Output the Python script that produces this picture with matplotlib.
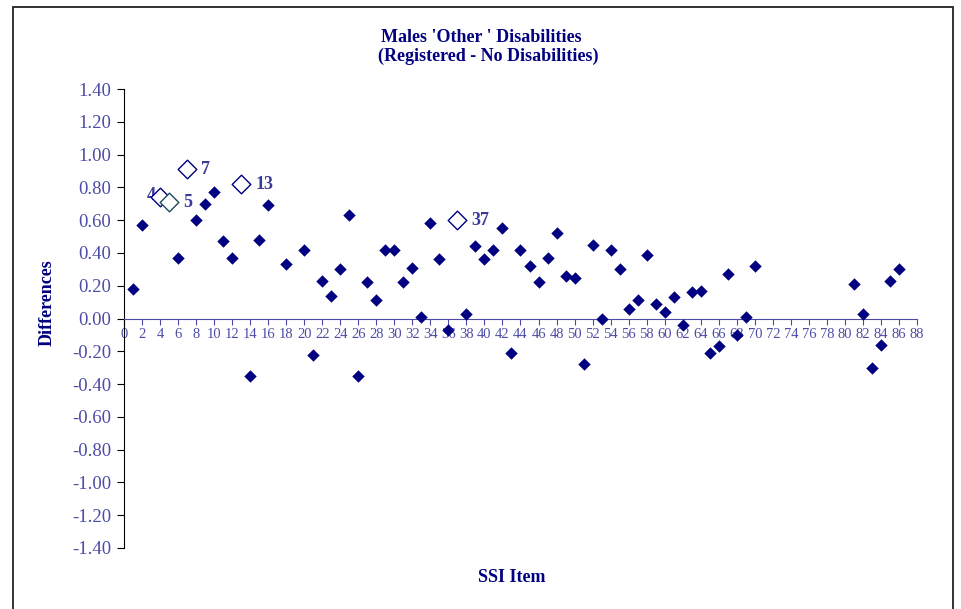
import matplotlib
matplotlib.use("Agg")
import matplotlib.pyplot as plt
from matplotlib.patches import Rectangle
import numpy as np

# SSI items with differences (filled diamonds)
items = [1, 2, 6, 8, 9, 10, 11, 12, 14, 15, 16, 18, 20, 21, 22, 23, 24, 25, 26, 27,
         28, 29, 30, 31, 32, 33, 34, 35, 36, 38, 39, 40, 41, 42, 43, 44, 45, 46, 47, 48,
         49, 50, 51, 52, 53, 54, 55, 56, 57, 58, 59, 60, 61, 62, 63, 64, 65, 66, 67, 68,
         69, 70, 81, 82, 83, 84, 85, 86]
diffs = [0.18, 0.57, 0.37, 0.60, 0.70, 0.77, 0.47, 0.37, -0.35, 0.48, 0.69, 0.33, 0.42, -0.22, 0.23, 0.14, 0.30, 0.63, -0.35, 0.22,
         0.11, 0.42, 0.42, 0.22, 0.31, 0.01, 0.58, 0.36, -0.07, 0.03, 0.44, 0.36, 0.42, 0.55, -0.21, 0.42, 0.32, 0.22, 0.37, 0.52,
         0.26, 0.25, -0.28, 0.45, 0.00, 0.42, 0.30, 0.06, 0.11, 0.39, 0.09, 0.04, 0.13, -0.04, 0.16, 0.17, -0.21, -0.17, 0.27, -0.10,
         0.01, 0.32, 0.21, 0.03, -0.30, -0.16, 0.23, 0.30]

# highlighted items (hollow diamonds, labelled)
hi_items = [4, 5, 7, 13, 37]
hi_diffs = [0.74, 0.71, 0.91, 0.82, 0.60]
hi_labels = ['4', '5', '7', '13', '37']

y_ticks = np.round(np.arange(-1.4, 1.41, 0.2), 2)
x_ticks = np.arange(0, 89, 2)

NAVY = '#000080'
TICKCOL = '#4c4ca6'
LABCOL = '#3a3a9a'

plt.rcParams['font.family'] = ['Liberation Serif', 'DejaVu Serif']

W, H = 962, 609
fig = plt.figure(figsize=(W / 100, H / 100), dpi=100)
ax = fig.add_axes([124 / W, 1 - 548 / H, (917 - 124) / W, (548 - 89) / H])

ax.scatter(items, diffs, marker='D', s=40, color=NAVY, zorder=3, linewidths=0)
for x, y, lab in zip(hi_items, hi_diffs, hi_labels):
    ec = '#1e4a5a' if lab == '5' else NAVY
    ax.scatter([x], [y], marker='D', s=90, facecolor='white', edgecolor=ec, linewidths=1.0, zorder=4)
    if lab == '4':
        ax.annotate(lab, (x, y), xytext=(-6, 1), textcoords='offset points',
                    ha='center', va='center', fontsize=13, fontweight='bold', color=LABCOL)
    else:
        ax.annotate(lab, (x, y), xytext=(10, 0), textcoords='offset points',
                    ha='left', va='center', fontsize=13, fontweight='bold', color=LABCOL)

ax.set_xlim(0, 88)
ax.set_ylim(-1.4, 1.4)

ax.spines['top'].set_visible(False)
ax.spines['right'].set_visible(False)
ax.spines['left'].set_color('black')
ax.spines['bottom'].set_position(('data', 0))
ax.spines['bottom'].set_color(TICKCOL)

ax.set_yticks(y_ticks)
ax.set_yticklabels(['%.2f' % (v + 0.0) for v in y_ticks])
ax.set_xticks(x_ticks)
ax.set_xticklabels([str(v) for v in x_ticks])
ax.tick_params(axis='y', direction='out', length=5, colors='black', labelcolor=TICKCOL, labelsize=13.5, pad=4)
ax.tick_params(axis='x', direction='out', length=4, colors=TICKCOL, labelcolor=TICKCOL, labelsize=10.5, pad=3)
ax.patch.set_visible(False)

fig.text(481 / W, 1 - 37 / H, "Males 'Other ' Disabilities", ha='center', va='center',
         fontsize=13, fontweight='bold', color=NAVY)
fig.text(488 / W, 1 - 56 / H, "(Registered - No Disabilities)", ha='center', va='center',
         fontsize=13, fontweight='bold', color=NAVY)
fig.text(512 / W, 1 - 577 / H, "SSI Item", ha='center', va='center',
         fontsize=13, fontweight='bold', color=NAVY)
fig.text(47 / W, 1 - 303 / H, "Differences", ha='center', va='center', rotation=90,
         fontsize=13, fontweight='bold', color=NAVY)

# outer chart frame
fig.patches.append(Rectangle((13 / W, -0.05), (953 - 13) / W, 1 - 7 / H + 0.05,
                             transform=fig.transFigure, fill=False, edgecolor='#222222', linewidth=1.3))

fig.savefig('out.png', dpi=100)
